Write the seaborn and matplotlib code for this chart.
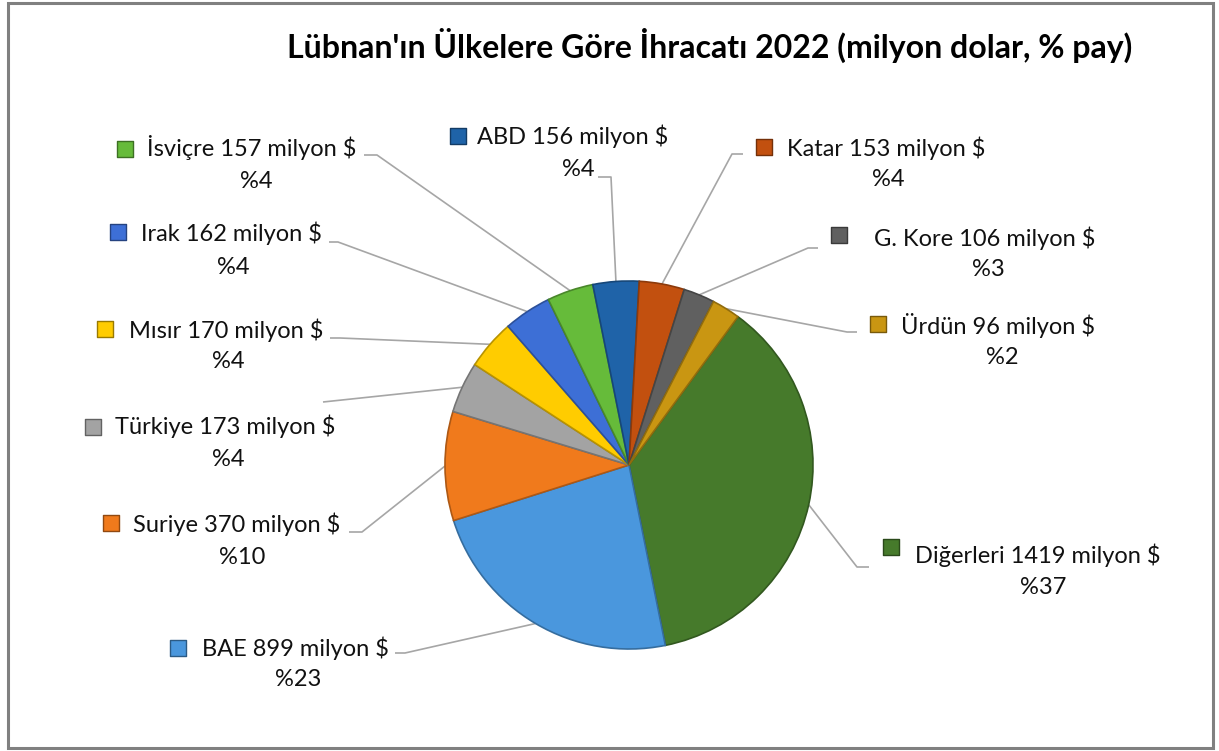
import numpy as np
import matplotlib
matplotlib.use('Agg')
import matplotlib.pyplot as plt
import seaborn as sns
from matplotlib.colors import to_rgb
from matplotlib.patches import Rectangle

# Data (clockwise order as drawn in the pie)
countries = ['Diğerleri', 'BAE', 'Suriye', 'Türkiye', 'Mısır', 'Irak',
             'İsviçre', 'ABD', 'Katar', 'G. Kore', 'Ürdün']
values = [1419, 899, 370, 173, 170, 162, 157, 156, 153, 106, 96]
shares = [37, 23, 10, 4, 4, 4, 4, 4, 4, 3, 2]
colors = ['#467a2b', '#4a97dd', '#f07a1c', '#a3a3a3', '#ffcc00', '#3d6fd6',
          '#66bb3a', '#1f63a8', '#c2500f', '#606060', '#c99612']

title = "Lübnan'ın Ülkelere Göre İhracatı 2022 (milyon dolar, % pay)"

# Layout in pixel coordinates (x right, y down), image is 1219 x 751
W, H = 1219, 751
pie_center = (629, 465)
pie_radius = 184
first_slice_angle = 36.3  # degrees clockwise from 12 o'clock

line1_pos = [(1038, 555), (295, 648), (237, 524), (225, 426), (226, 330), (231, 233),
             (252, 148), (573, 136), (886, 148), (985, 238), (998, 325)]
line2_pos = [(1043, 587), (298, 680), (242, 557), (228, 460), (228, 362), (233, 267),
             (256, 182), (578, 170), (888, 180), (988, 270), (1002, 357)]
square_pos = [(891, 547), (178, 648), (111, 523), (93, 427), (105, 329), (118, 232),
              (125, 149), (458, 136), (764, 147), (839, 235), (878, 324)]
leader_end = [(869, 567), (395, 653), (349, 532), (323, 402), (330, 338), (329, 242),
              (364, 155), (598, 177), (743, 154), (818, 248), (857, 332)]
leader_elbow = [(857, 567), (405, 653), (362, 532), (323, 402), (340, 338), (338, 242),
                (377, 155), (611, 177), (732, 154), (808, 248), (847, 332)]


def px(p):
    return (p[0], H - p[1])


def shade(c, f):
    r, g, b = to_rgb(c)
    return (r * f, g * f, b * f)


sns.set_theme(style='white')
plt.rcParams['font.family'] = ['Lato', 'DejaVu Sans']

fig = plt.figure(figsize=(W / 100, H / 100), dpi=100)
ax = fig.add_axes([0, 0, 1, 1])

wedges, _ = ax.pie(values, colors=colors, startangle=90 - first_slice_angle,
                   counterclock=False, center=px(pie_center), radius=pie_radius,
                   wedgeprops=dict(linewidth=1.2))
for w, c in zip(wedges, colors):
    w.set_edgecolor(shade(c, 0.72))

ax.set_xlim(0, W)
ax.set_ylim(0, H)
ax.set_aspect('auto')
ax.axis('off')

cx, cy = px(pie_center)
for i, w in enumerate(wedges):
    mid = np.deg2rad((w.theta1 + w.theta2) / 2)
    edge = (cx + pie_radius * np.cos(mid), cy + pie_radius * np.sin(mid))
    pts = [px(leader_end[i]), px(leader_elbow[i]), edge]
    ax.plot([p[0] for p in pts], [p[1] for p in pts], color='#a6a6a6', lw=1.2,
            zorder=0, solid_capstyle='butt')

    x1, y1 = px(line1_pos[i])
    ax.text(x1, y1, f'{countries[i]} {values[i]} milyon $', ha='center', va='center',
            fontsize=17, color='#111111')
    x2, y2 = px(line2_pos[i])
    ax.text(x2, y2, f'%{shares[i]}', ha='center', va='center', fontsize=17, color='#111111')
    sx, sy = px(square_pos[i])
    ax.scatter([sx], [sy], marker='s', s=120, color=colors[i],
               edgecolor=shade(colors[i], 0.6), linewidth=1.0, zorder=3)

ax.text(710, H - 45, title, ha='center', va='center', fontsize=23, fontweight='bold',
        color='black')

fig.patches.append(Rectangle((8 / W, 3 / H), (1213 - 8) / W, (748 - 3) / H,
                             transform=fig.transFigure, fill=False,
                             edgecolor='#808080', linewidth=2.2))

fig.savefig('out.png', dpi=100, facecolor='white')
